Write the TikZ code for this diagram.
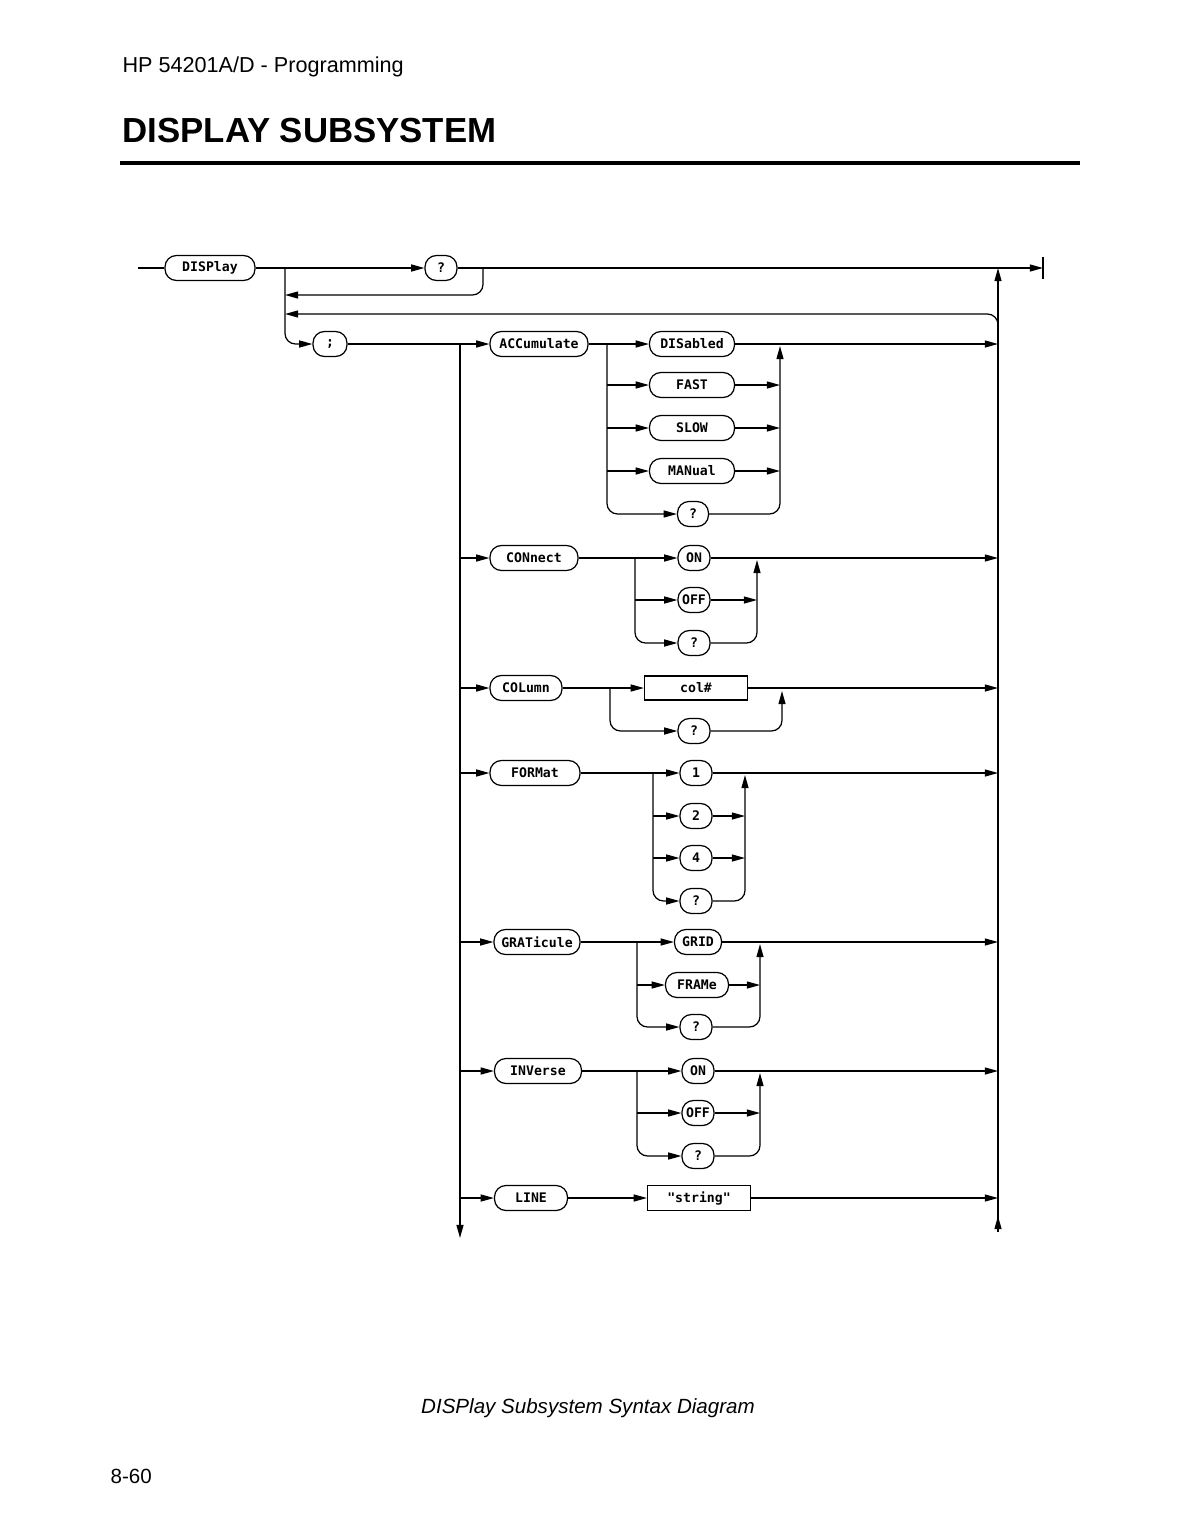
\documentclass[tikz,border=0pt]{standalone}
\usepackage{fontspec}
\setmainfont{Liberation Sans}
\newfontfamily\plotfont{DejaVu Sans Mono}
\usetikzlibrary{arrows.meta,positioning}

\begin{document}
\begin{tikzpicture}[
  x=0.02cm, y=-0.02cm,
  line width=0.7pt,
  kw/.style={draw, rounded corners=6.5pt, minimum height=0.5cm, inner xsep=1pt, font=\plotfont\fontsize{7.5}{8}\selectfont\bfseries},
  param/.style={draw, rectangle, minimum height=0.48cm, font=\plotfont\fontsize{7.5}{8}\selectfont\bfseries},
  flow/.style={-{Triangle[length=7.5pt,width=4pt]}},
  turn/.style={flow, rounded corners=6pt}
]
\useasboundingbox (0,0) rectangle (1198,1539);

% page header
\node[anchor=base west, font=\fontsize{12.3}{14}\selectfont, inner sep=0pt] (hdr) at (122,72) {HP 54201A/D - Programming};
\node[anchor=base west, font=\fontsize{19.8}{22}\selectfont\bfseries, inner sep=0pt] (title) at (122,142) {DISPLAY SUBSYSTEM};
\draw[line width=2.3pt] (120,163) -- (1080,163);

% main line
\coordinate (start) at (138,268);
\node[kw, minimum width=1.8cm] (disp) at (210,268) {DISPlay};
\node[kw, minimum width=0.64cm] (q) at (441,268) {?};
\coordinate (stop) at (1043,268);
\coordinate (lbus) at (285,268);
\coordinate (qret) at (483,268);
\coordinate (rbus) at (998,268);
\coordinate (rbot) at (998,1232);
\coordinate (rloop) at (998,330);
\coordinate (ret1) at (285,295);
\coordinate (ret2) at (285,314);
\node[kw, minimum width=0.68cm] (semi) at (330,344) {;};
\coordinate (trunk) at (460,344);
\coordinate (tbot) at (460,1238);

\draw (start) -- (disp);
\draw[flow] (disp) -- (q);
\draw[flow] (q) -- (stop);
\draw[line width=1pt] (stop) ++(0,-11) -- ++(0,22);
\draw[turn] (qret) |- (ret1);
\draw[turn] (rloop) |- (ret2);
\draw[turn] (lbus) |- (semi);
\draw[flow] (rbot) -- (rbus);
\draw[flow] (rbot) -- ++(0,-16);
\draw[flow] (trunk) -- (tbot);

% ACCumulate
\node[kw, minimum width=1.96cm] (acc) at (539,344) {ACCumulate};
\node[kw, minimum width=1.7cm] (dis) at (692,344) {DISabled};
\node[kw, minimum width=1.7cm] (fast) at (692,385) {FAST};
\node[kw, minimum width=1.7cm] (slow) at (692,428) {SLOW};
\node[kw, minimum width=1.7cm] (man) at (692,471) {MANual};
\node[kw, minimum width=0.62cm] (accq) at (693,514) {?};
\coordinate (accB) at (607,344);
\coordinate (accJ) at (780,346);
\draw[flow] (semi) -- (acc);
\draw[flow] (acc) -- (dis);
\draw[flow] (dis) -- (rbus |- dis);
\foreach \n in {fast,slow,man} {
  \draw[flow] (accB |- \n) -- (\n);
  \draw[flow] (\n) -- (accJ |- \n);
}
\draw[turn] (accB) |- (accq);
\draw[turn] (accq) -| (accJ);

% CONnect
\node[kw, minimum width=1.76cm] (con) at (534,558) {CONnect};
\node[kw, minimum width=0.64cm] (con1) at (694,558) {ON};
\node[kw, minimum width=0.64cm] (con2) at (694,600) {OFF};
\node[kw, minimum width=0.64cm] (conq) at (694,643) {?};
\coordinate (conB) at (635,558);
\coordinate (conJ) at (757,560);
\draw[flow] (trunk |- con) -- (con);
\draw[flow] (con) -- (con1);
\draw[flow] (con1) -- (rbus |- con1);
\draw[flow] (conB |- con2) -- (con2);
\draw[flow] (con2) -- (conJ |- con2);
\draw[turn] (conB) |- (conq);
\draw[turn] (conq) -| (conJ);

% COLumn
\node[kw, minimum width=1.44cm] (col) at (526,688) {COLumn};
\node[param, minimum width=2.06cm] (colnum) at (696,688) {col\#};
\node[kw, minimum width=0.64cm] (colq) at (694,731) {?};
\coordinate (colB) at (610,688);
\coordinate (colJ) at (782,691);
\draw[flow] (trunk |- col) -- (col);
\draw[flow] (col) -- (colnum);
\draw[flow] (colnum) -- (rbus |- colnum);
\draw[turn] (colB) |- (colq);
\draw[turn] (colq) -| (colJ);

% FORMat
\node[kw, minimum width=1.8cm] (fmt) at (535,773) {FORMat};
\node[kw, minimum width=0.64cm] (fmt1) at (696,773) {1};
\node[kw, minimum width=0.64cm] (fmt2) at (696,816) {2};
\node[kw, minimum width=0.64cm] (fmt4) at (696,858) {4};
\node[kw, minimum width=0.64cm] (fmtq) at (696,901) {?};
\coordinate (fmtB) at (653,773);
\coordinate (fmtJ) at (745,775);
\draw[flow] (trunk |- fmt) -- (fmt);
\draw[flow] (fmt) -- (fmt1);
\draw[flow] (fmt1) -- (rbus |- fmt1);
\foreach \n in {fmt2,fmt4} {
  \draw[flow] (fmtB |- \n) -- (\n);
  \draw[flow] (\n) -- (fmtJ |- \n);
}
\draw[turn] (fmtB) |- (fmtq);
\draw[turn] (fmtq) -| (fmtJ);

% GRATicule
\node[kw, minimum width=1.72cm] (grat) at (537,942) {GRATicule};
\node[kw, minimum width=0.94cm] (grid) at (698,942) {GRID};
\node[kw, minimum width=1.26cm] (frame) at (697,985) {FRAMe};
\node[kw, minimum width=0.64cm] (gratq) at (696,1027) {?};
\coordinate (gratB) at (637,942);
\coordinate (gratJ) at (760,944);
\draw[flow] (trunk |- grat) -- (grat);
\draw[flow] (grat) -- (grid);
\draw[flow] (grid) -- (rbus |- grid);
\draw[flow] (gratB |- frame) -- (frame);
\draw[flow] (frame) -- (gratJ |- frame);
\draw[turn] (gratB) |- (gratq);
\draw[turn] (gratq) -| (gratJ);

% INVerse
\node[kw, minimum width=1.74cm] (inv) at (538,1071) {INVerse};
\node[kw, minimum width=0.64cm] (inv1) at (698,1071) {ON};
\node[kw, minimum width=0.64cm] (inv2) at (698,1113) {OFF};
\node[kw, minimum width=0.64cm] (invq) at (698,1156) {?};
\coordinate (invB) at (637,1071);
\coordinate (invJ) at (760,1073);
\draw[flow] (trunk |- inv) -- (inv);
\draw[flow] (inv) -- (inv1);
\draw[flow] (inv1) -- (rbus |- inv1);
\draw[flow] (invB |- inv2) -- (inv2);
\draw[flow] (inv2) -- (invJ |- inv2);
\draw[turn] (invB) |- (invq);
\draw[turn] (invq) -| (invJ);

% LINE
\node[kw, minimum width=1.46cm] (line) at (531,1198) {LINE};
\node[param, minimum width=2.06cm, minimum height=0.5cm] (str) at (699,1198) {"string"};
\draw[flow] (trunk |- line) -- (line);
\draw[flow] (line) -- (str);
\draw[flow] (str) -- (rbus |- str);

% caption and page number
\node[anchor=base, font=\fontsize{11.7}{14}\selectfont\itshape, inner sep=0pt] (cap) at (588,1413) {DISPlay Subsystem Syntax Diagram};
\node[anchor=base west, font=\fontsize{11.7}{14}\selectfont, inner sep=0pt] (page) at (110,1483) {8-60};
\end{tikzpicture}
\end{document}
